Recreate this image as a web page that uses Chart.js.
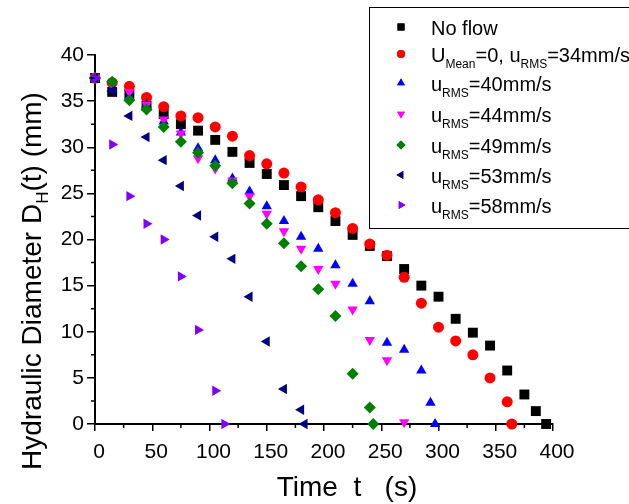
<!DOCTYPE html>
<html>
<head>
<meta charset="utf-8">
<script src="https://cdn.jsdelivr.net/npm/chart.js@4.4.0/dist/chart.umd.min.js"></script>
<style>
  html, body { margin: 0; padding: 0; background: #fff; }
</style>
</head>
<body>
<canvas id="chart" width="629" height="504"></canvas>
<script>
// ===== DATA (time in s, hydraulic diameter in mm) =====
const noFlowT = [0, 15, 30, 45, 60, 75, 90, 105, 120, 135, 150, 165, 180, 195, 210, 225, 240, 255, 270, 285, 300, 315, 330, 345, 360, 375, 385, 394];
const noFlowD = [37.5, 36.0, 35.8, 34.5, 33.6, 32.5, 31.8, 30.8, 29.5, 28.3, 27.1, 25.9, 24.7, 23.5, 22.0, 20.5, 19.3, 18.2, 16.8, 15.0, 13.8, 11.4, 9.9, 8.5, 5.8, 3.2, 1.4, 0];

const rms34T = [0, 15, 30, 45, 60, 75, 90, 105, 120, 135, 150, 165, 180, 195, 210, 225, 240, 255, 270, 285, 300, 315, 330, 345, 360, 364];
const rms34D = [37.5, 37.0, 36.6, 35.4, 34.4, 33.4, 33.2, 32.2, 31.2, 29.1, 28.2, 27.2, 25.7, 24.3, 22.9, 21.2, 19.5, 18.3, 15.9, 13.1, 10.5, 9.0, 7.5, 5.0, 2.4, 0];

const rms40T = [0, 15, 30, 45, 60, 75, 90, 105, 120, 135, 150, 165, 180, 195, 210, 225, 240, 255, 270, 285, 293, 297];
const rms40D = [37.5, 36.3, 35.5, 34.6, 32.8, 31.6, 29.9, 28.6, 26.6, 25.2, 23.6, 22.0, 20.3, 19.0, 17.2, 15.2, 13.3, 8.8, 8.05, 5.8, 2.3, 0];

const rms44T = [0, 15, 30, 45, 60, 75, 90, 105, 120, 135, 150, 165, 180, 195, 210, 225, 240, 255, 270];
const rms44D = [37.5, 36.8, 36.0, 34.6, 33.0, 31.5, 28.8, 27.7, 26.4, 24.7, 22.8, 20.9, 19.0, 16.8, 15.2, 12.4, 9.1, 6.9, 0.2];

const rms49T = [0, 15, 30, 45, 60, 75, 90, 105, 120, 135, 150, 165, 180, 195, 210, 225, 240, 243];
const rms49D = [37.5, 37.1, 35.1, 34.1, 32.2, 30.6, 29.4, 28.0, 26.1, 23.9, 21.7, 19.6, 17.1, 14.6, 11.7, 5.45, 1.8, 0];

const rms53T = [0, 15, 30, 45, 60, 75, 90, 105, 120, 135, 150, 165, 180, 183];
const rms53D = [37.5, 36.1, 33.4, 31.1, 28.6, 25.8, 22.6, 20.3, 17.9, 13.8, 8.95, 3.8, 1.55, 0];

const rms58T = [0, 15, 30, 45, 60, 75, 90, 105, 113];
const rms58D = [37.5, 30.3, 24.7, 21.7, 20.0, 16.0, 10.2, 3.6, 0];

// legend labels: [text, isSubscript]
const seriesLabels = [
    [['No flow', false]],
    [['U', false], ['Mean', true], ['=0, u', false], ['RMS', true], ['=34mm/s', false]],
    [['u', false], ['RMS', true], ['=40mm/s', false]],
    [['u', false], ['RMS', true], ['=44mm/s', false]],
    [['u', false], ['RMS', true], ['=49mm/s', false]],
    [['u', false], ['RMS', true], ['=53mm/s', false]],
    [['u', false], ['RMS', true], ['=58mm/s', false]]
];
const yTitle = [['Hydraulic Diameter D', false], ['H', true], ['(t) (mm)', false]];
const xTitle = 'Time  t   (s)';

const xMin = 0, xMax = 400, xStep = 50;
const yMin = 0, yMax = 40, yStep = 5;

// ===== STYLES =====
const FONT = "'Liberation Sans', Arial, sans-serif";
const seriesStyle = [
    { color: '#000000', style: 'rect', rotation: 0, r: 7, lr: 5 },
    { color: '#ff0000', style: 'circle', rotation: 0, r: 5.5, lr: 4 },
    { color: '#0000ff', style: 'triangle', rotation: 0, r: 6, lr: 4.5 },
    { color: '#ff00ff', style: 'triangle', rotation: 180, r: 6, lr: 4.5 },
    { color: '#008000', style: 'rectRot', rotation: 0, r: 6, lr: 4.5 },
    { color: '#000080', style: 'triangle', rotation: -90, r: 6, lr: 4.5 },
    { color: '#8000ff', style: 'triangle', rotation: 90, r: 6, lr: 4.5 }
];
const seriesData = [
    [noFlowT, noFlowD], [rms34T, rms34D], [rms40T, rms40D], [rms44T, rms44D],
    [rms49T, rms49D], [rms53T, rms53D], [rms58T, rms58D]
];

const datasets = seriesData.map(([t, d], i) => {
    const s = seriesStyle[i];
    return {
        label: 'series' + i,
        data: t.map((v, k) => ({ x: v, y: d[k] })),
        pointStyle: s.style,
        rotation: s.rotation,
        pointRadius: s.r,
        backgroundColor: s.color,
        borderColor: s.color,
        borderWidth: 0,
        clip: false,
        order: seriesData.length - i   // later series drawn on top
    };
});

// ===== RICH TEXT (subscripts) =====
function richWidth(ctx, segs, size, subSize) {
    return segs.reduce((w, [txt, sub]) => {
        ctx.font = `${sub ? subSize : size}px ${FONT}`;
        return w + ctx.measureText(txt).width;
    }, 0);
}
function drawRich(ctx, segs, x, y, size, subSize, drop) {
    segs.forEach(([txt, sub]) => {
        ctx.font = `${sub ? subSize : size}px ${FONT}`;
        ctx.fillText(txt, x, sub ? y + drop : y);
        x += ctx.measureText(txt).width;
    });
}

// ===== EXTRA DRAWING: minor ticks, titles, legend =====
const extras = {
    id: 'extras',
    afterDraw(chart) {
        const { ctx, scales: { x, y } } = chart;
        const area = chart.chartArea;
        ctx.save();
        ctx.strokeStyle = '#000';
        ctx.fillStyle = '#000';
        ctx.lineWidth = 1.5;

        // minor ticks halfway between majors
        ctx.beginPath();
        for (let v = xMin + xStep / 2; v < xMax; v += xStep) {
            const px = x.getPixelForValue(v);
            ctx.moveTo(px, area.bottom);
            ctx.lineTo(px, area.bottom + 4);
        }
        for (let v = yMin + yStep / 2; v < yMax; v += yStep) {
            const py = y.getPixelForValue(v);
            ctx.moveTo(area.left, py);
            ctx.lineTo(area.left - 4, py);
        }
        ctx.stroke();

        // axis titles
        ctx.textBaseline = 'alphabetic';
        ctx.textAlign = 'left';
        ctx.font = `28px ${FONT}`;
        const xw = ctx.measureText(xTitle).width;
        ctx.fillText(xTitle, 347 - xw / 2, 496);

        ctx.save();
        ctx.translate(41, 281);
        ctx.rotate(-Math.PI / 2);
        const yw = richWidth(ctx, yTitle, 28, 17);
        drawRich(ctx, yTitle, -yw / 2, 0, 28, 17, 7);
        ctx.restore();

        // legend box
        ctx.fillStyle = '#fff';
        ctx.fillRect(369, 7, 300, 221);
        ctx.lineWidth = 1;
        ctx.strokeStyle = '#000';
        ctx.strokeRect(369.5, 7.5, 300, 221);

        const rowY = [28, 55, 84, 115, 146, 176, 206];
        seriesLabels.forEach((segs, i) => {
            const s = seriesStyle[i];
            ctx.fillStyle = s.color;
            Chart.helpers.drawPoint(ctx, {
                pointStyle: s.style, rotation: s.rotation, radius: s.lr, borderWidth: 0
            }, 401, rowY[i] - 1);
            ctx.fill();
            ctx.fillStyle = '#000';
            drawRich(ctx, segs, 431, rowY[i] + 7, 20, 12, 6);
        });
        ctx.restore();
    }
};

// ===== CHART =====
const tickFont = { family: FONT, size: 21 };
new Chart(document.getElementById('chart'), {
    type: 'scatter',
    data: { datasets },
    options: {
        responsive: false,
        animation: false,
        layout: { padding: { left: 0, right: 76, top: 55, bottom: 0 } },
        plugins: { legend: { display: false }, tooltip: { enabled: false } },
        scales: {
            x: {
                type: 'linear', min: xMin, max: xMax,
                afterFit: s => { s.height = 80; },
                ticks: { stepSize: xStep, color: '#000', font: tickFont, padding: 9, labelOffset: 4, maxRotation: 0 },
                grid: { drawOnChartArea: false, drawTicks: true, tickLength: 7, color: '#000', lineWidth: 1.5 },
                border: { color: '#000', width: 2 }
            },
            y: {
                type: 'linear', min: yMin, max: yMax,
                afterFit: s => { s.width = 95; },
                ticks: { stepSize: yStep, color: '#000', font: tickFont, padding: 3 },
                grid: { drawOnChartArea: false, drawTicks: true, tickLength: 8, color: '#000', lineWidth: 1.5 },
                border: { color: '#000', width: 2 }
            }
        }
    },
    plugins: [extras]
});
</script>
</body>
</html>
